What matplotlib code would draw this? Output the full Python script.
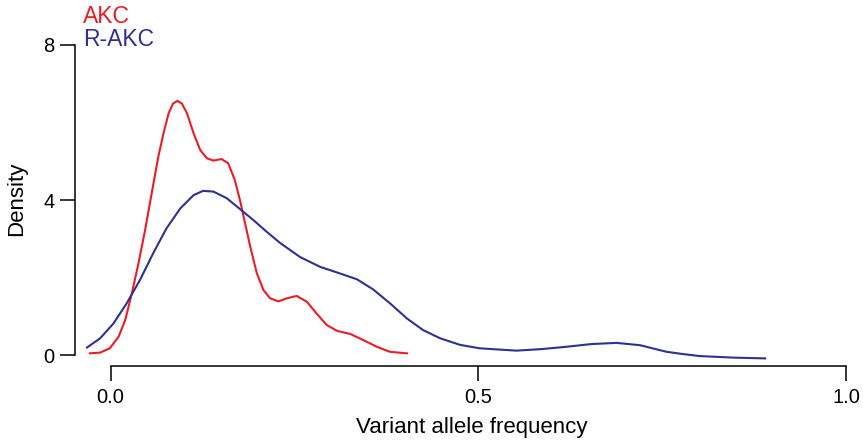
import numpy as np
import matplotlib
matplotlib.use("Agg")
import matplotlib.pyplot as plt

plt.rcParams['font.family'] = ['Liberation Sans', 'DejaVu Sans']

# --- Dados (densidade) ---
akc_x = [-0.028, -0.014, -0.001, 0.011, 0.020, 0.029, 0.038, 0.047, 0.056, 0.065,
         0.072, 0.079, 0.085, 0.091, 0.097, 0.104, 0.113, 0.122, 0.131, 0.140,
         0.151, 0.160, 0.169, 0.176, 0.183, 0.190, 0.199, 0.208, 0.217, 0.228,
         0.240, 0.253, 0.267, 0.280, 0.294, 0.308, 0.326, 0.344, 0.362, 0.380,
         0.403]
akc_y = [0.05, 0.07, 0.18, 0.48, 0.91, 1.60, 2.37, 3.23, 4.18, 5.12,
         5.72, 6.24, 6.49, 6.56, 6.49, 6.24, 5.72, 5.29, 5.08, 5.02,
         5.06, 4.95, 4.52, 4.00, 3.40, 2.80, 2.11, 1.68, 1.47, 1.39,
         1.47, 1.53, 1.38, 1.08, 0.78, 0.63, 0.55, 0.39, 0.22, 0.09,
         0.05]

rakc_x = [-0.032, -0.014, 0.004, 0.022, 0.040, 0.058, 0.076, 0.095, 0.113, 0.126,
          0.140, 0.158, 0.176, 0.194, 0.212, 0.231, 0.258, 0.285, 0.312, 0.335,
          0.357, 0.380, 0.403, 0.425, 0.448, 0.475, 0.502, 0.552, 0.586, 0.620,
          0.654, 0.688, 0.720, 0.756, 0.779, 0.801, 0.847, 0.890]
rakc_y = [0.20, 0.44, 0.82, 1.34, 1.94, 2.63, 3.27, 3.79, 4.13, 4.24,
          4.22, 4.05, 3.77, 3.49, 3.19, 2.89, 2.53, 2.28, 2.11, 1.96,
          1.70, 1.34, 0.95, 0.65, 0.44, 0.27, 0.18, 0.12, 0.16, 0.22,
          0.29, 0.32, 0.26, 0.09, 0.03, -0.02, -0.06, -0.08]

x_ticks = [0.0, 0.5, 1.0]
x_tick_labels = ['0.0', '0.5', '1.0']
y_ticks = [0, 4, 8]

COR_AKC = '#ED1C24'
COR_RAKC = '#2E3192'

fig = plt.figure(figsize=(8.63, 4.46), dpi=100)
ax = fig.add_axes([75 / 863, 80 / 446, 771 / 863, 321 / 446])

ax.plot(akc_x, akc_y, color=COR_AKC, lw=1.5, clip_on=False,
        solid_joinstyle='round')
ax.plot(rakc_x, rakc_y, color=COR_RAKC, lw=1.5, clip_on=False,
        solid_joinstyle='round')

ax.set_xlim(-0.0483, 1.0)
ax.set_ylim(-0.276, 8)

# estilo R: eixos separados
for s in ['top', 'right']:
    ax.spines[s].set_visible(False)
ax.spines['left'].set_bounds(0, 8)
ax.spines['bottom'].set_bounds(0, 1)
for s in ['left', 'bottom']:
    ax.spines[s].set_linewidth(1.1)

ax.set_xticks(x_ticks)
ax.set_xticklabels(x_tick_labels)
ax.set_yticks(y_ticks)
ax.tick_params(axis='both', length=10.5, width=1.1, labelsize=14.5)
ax.tick_params(axis='x', pad=5)
ax.tick_params(axis='y', pad=4)

ax.set_xlabel('Variant allele frequency', fontsize=16)
ax.xaxis.set_label_coords(0.515, -0.16)
ax.set_ylabel('Density', fontsize=16)
ax.yaxis.set_label_coords(-0.062, 0.522)

# legenda como texto colorido
fig.text(83 / 863, 1 - 16.7 / 446, 'AKC', color=COR_AKC, fontsize=16.5,
         ha='left', va='center')
fig.text(83 / 863, 1 - 40 / 446, 'R-AKC', color=COR_RAKC, fontsize=16.5,
         ha='left', va='center')

fig.savefig('out.png', dpi=100)
